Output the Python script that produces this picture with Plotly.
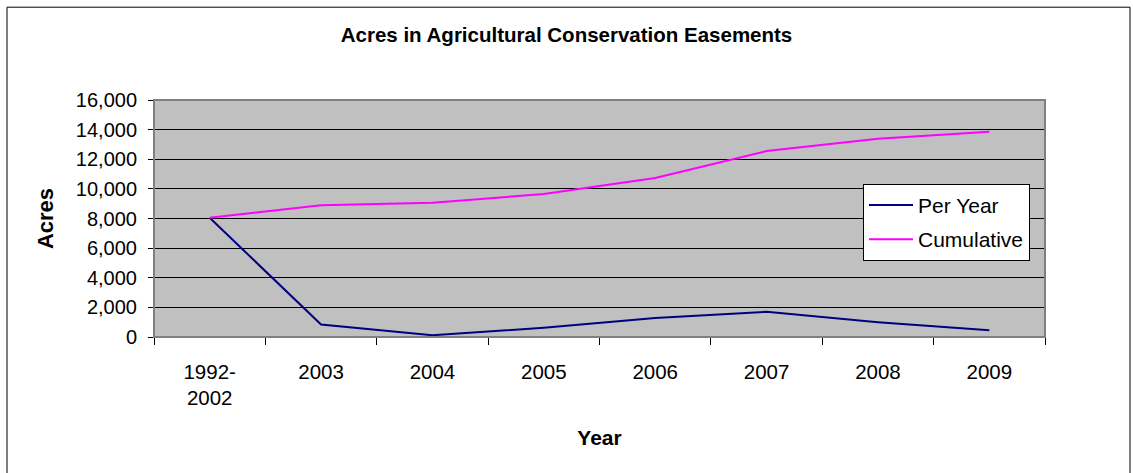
import plotly.graph_objects as go

categories = ["1992-<br>2002", "2003", "2004", "2005", "2006", "2007", "2008", "2009"]
per_year = [8050, 840, 120, 620, 1280, 1700, 1000, 460]
cumulative = [8050, 8900, 9060, 9650, 10730, 12550, 13380, 13850]
y_ticks = [0, 2000, 4000, 6000, 8000, 10000, 12000, 14000, 16000]

W, H = 1133, 473
L, R, T, B = 154, 88, 100, 135.5
pw, ph = W - L - R, H - T - B

def px_x(x):
    return (x - L) / pw

def px_y(y):
    return (H - B - y) / ph

FONT = "Liberation Sans, Arial, sans-serif"

fig = go.Figure()
fig.add_trace(go.Scatter(x=categories, y=per_year, mode="lines", name="Per Year",
                         line=dict(color="#000080", width=2), legendgroup="a"))
fig.add_trace(go.Scatter(x=categories, y=cumulative, mode="lines", name="Cumulative",
                         line=dict(color="#FF00FF", width=2), legendgroup="b"))

fig.update_layout(
    width=W, height=H,
    margin=dict(l=L, r=R, t=T, b=B, autoexpand=False),
    paper_bgcolor="white",
    plot_bgcolor="#C0C0C0",
    font=dict(family=FONT, color="black"),
    title=dict(text="<b>Acres in Agricultural Conservation Easements</b>",
               x=0.5, xanchor="center", y=1 - 35 / H, yanchor="middle",
               font=dict(size=20.5, family=FONT, color="black")),
    showlegend=True,
    legend=dict(x=px_x(863), y=px_y(184), xanchor="left", yanchor="top",
                bgcolor="white", bordercolor="black", borderwidth=1,
                font=dict(size=21, family=FONT, color="black"),
                tracegroupgap=4, itemwidth=44),
    xaxis=dict(
        type="category", tickson="boundaries", ticks="outside", ticklen=7,
        tickcolor="black", tickwidth=1, showline=True, linecolor="black", linewidth=1,
        showgrid=False, tickfont=dict(size=20.5, family=FONT, color="black"),
        ticklabelstandoff=16, range=[-0.5, 7.5],
        title=dict(text="<b>Year</b>", font=dict(size=21, family=FONT, color="black"),
                   standoff=22),
        automargin=False,
    ),
    yaxis=dict(
        range=[0, 16000], tickvals=y_ticks, tickformat=",", ticks="outside", ticklen=5,
        tickcolor="black", showline=True, linecolor="black", linewidth=1,
        showgrid=True, gridcolor="black", gridwidth=1, zeroline=False,
        tickfont=dict(size=20, family=FONT, color="black"),
        ticklabelstandoff=7,
        title=dict(text="<b>Acres</b>", font=dict(size=22, family=FONT, color="black"),
                   standoff=16),
        automargin=False,
    ),
    shapes=[
        dict(type="rect", xref="paper", yref="paper", x0=0, x1=1, y0=0, y1=1,
             line=dict(color="#808080", width=2), layer="above"),
        dict(type="rect", xref="paper", yref="paper", x0=px_x(7), x1=px_x(1130),
             y0=px_y(480), y1=px_y(7), line=dict(color="black", width=1), layer="below"),
    ],
)

fig.write_html("out.html", config={"displayModeBar": False},
               post_script="document.body.style.margin='0';document.body.style.padding='0';")
